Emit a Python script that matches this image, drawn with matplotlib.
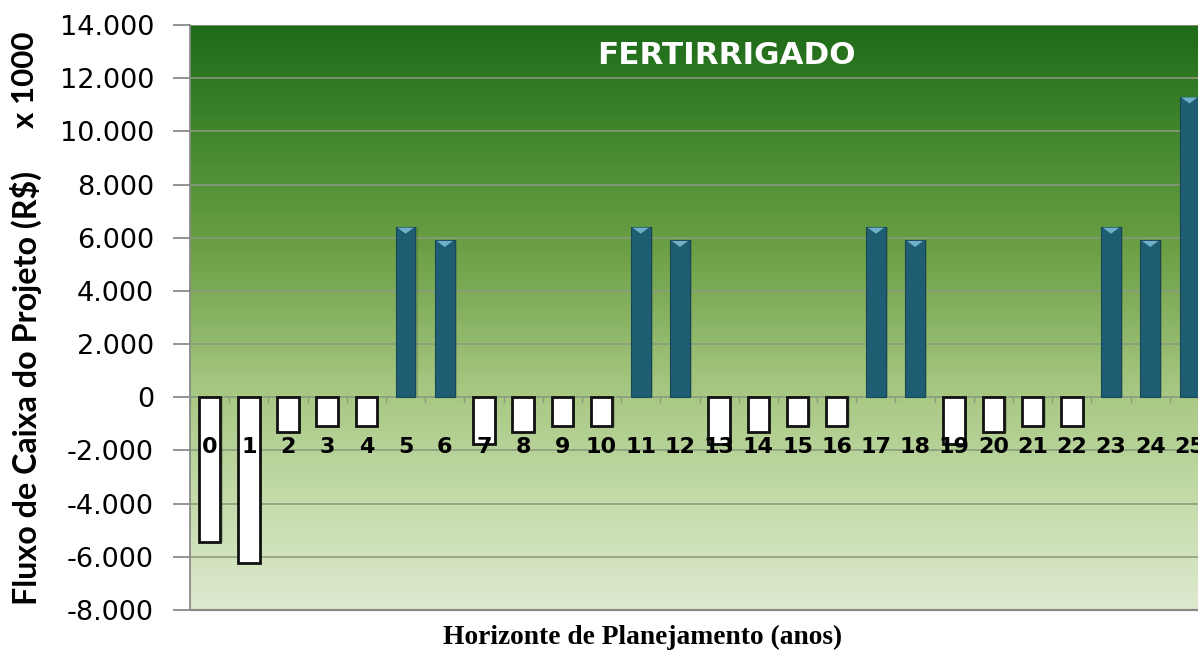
import numpy as np
import matplotlib
matplotlib.use("Agg")
import matplotlib.pyplot as plt
from matplotlib.colors import LinearSegmentedColormap

years = list(range(26))
cash_flow = [-5450, -6230, -1310, -1090, -1090, 6400, 5900,
             -1760, -1310, -1090, -1090, 6400, 5900,
             -1760, -1310, -1090, -1090, 6400, 5900,
             -1760, -1310, -1090, -1090, 6400, 5900, 11300]
yticks = [-8000, -6000, -4000, -2000, 0, 2000, 4000, 6000, 8000, 10000, 12000, 14000]
ytick_labels = ["-8.000", "-6.000", "-4.000", "-2.000", "0", "2.000", "4.000",
                "6.000", "8.000", "10.000", "12.000", "14.000"]
title = "FERTIRRIGADO"
ylabel = "Fluxo de Caixa do Projeto (R$)"
unit_label = "x 1000"
xlabel = "Horizonte de Planejamento (anos)"

W, H = 1198, 655
fig = plt.figure(figsize=(W / 100, H / 100), dpi=100)
fig.patch.set_facecolor("white")
renderer = fig.canvas.get_renderer()


def fit(t, target, horizontal=True):
    bb = t.get_window_extent(renderer=renderer)
    cur = bb.width if horizontal else bb.height
    t.set_fontsize(t.get_fontsize() * target / cur)


left, right, top, bottom = 190, 1209, 25, 610
ax = fig.add_axes([left / W, 1 - bottom / H, (right - left) / W, (bottom - top) / H])
ax.set_xlim(-0.5, 25.5)
ax.set_ylim(-8000, 14000)

cmap = LinearSegmentedColormap.from_list(
    "bg", [(0.0, "#dde9cf"), (0.18, "#c6dcab"), (0.38, "#a6c781"),
           (0.62, "#6b9f45"), (0.85, "#3a8229"), (1.0, "#1d6a18")])
grad = np.linspace(0, 1, 256).reshape(-1, 1)
ax.imshow(grad, aspect="auto", cmap=cmap, origin="lower",
          extent=(-0.5, 25.5, -8000, 14000), zorder=0)

for yv in yticks:
    ax.axhline(yv, color="#8a9a80", lw=1.3, zorder=1, alpha=0.9)

colors = ["#1f5e72" if v > 0 else "white" for v in cash_flow]
edges = ["#174656" if v > 0 else "#111111" for v in cash_flow]
widths = [0.5 if v > 0 else 0.55 for v in cash_flow]
lws = [0.8 if v > 0 else 2.0 for v in cash_flow]

ax.bar([x + 0.06 for x in years], cash_flow, width=widths, color="#334433",
       alpha=0.25, zorder=2, linewidth=0)
ax.bar(years, cash_flow, width=widths, color=colors, edgecolor=edges,
       linewidth=lws, zorder=3)

for x, v, w in zip(years, cash_flow, widths):
    if v > 0:
        ax.fill([x - w / 2 + 0.04, x + w / 2 - 0.04, x], [v - 20, v - 20, v - 250],
                color="#6fb0c8", zorder=4, lw=0)

for x in years:
    ax.text(x, -1880, str(x), ha="center", va="center", fontsize=16,
            fontweight="bold", family="DejaVu Sans", color="black", zorder=5)

for x in np.arange(-0.5, 26, 1):
    ax.plot([x, x], [0, -180], color="#8a9a80", lw=1, zorder=2)

ax.set_yticks(yticks)
ax.set_yticklabels(ytick_labels, fontsize=19.5, family="DejaVu Sans")
ax.set_xticks([])
ax.tick_params(axis="y", length=12, color="#8a8a8a", width=1.3, pad=14)
for s in ["top", "right"]:
    ax.spines[s].set_visible(False)
ax.spines["left"].set_color("#8a8a8a")
ax.spines["left"].set_linewidth(1.3)
ax.spines["bottom"].set_color("#8a8a8a")
ax.spines["bottom"].set_linewidth(1.6)

t = fig.text(726 / W, 1 - 56 / H, title, ha="center", va="center", color="white",
             fontsize=20, fontweight="bold", family="DejaVu Sans")
fit(t, 258)
t = fig.text(26 / W, 1 - 388 / H, ylabel, rotation=90, ha="center", va="center",
             fontsize=16, fontweight="bold",
             family=["Liberation Sans Narrow", "Lato"])
fit(t, 435, horizontal=False)
t = fig.text(25 / W, 1 - 80 / H, unit_label, rotation=90, ha="center", va="center",
             fontsize=16, fontweight="bold",
             family=["Liberation Sans Narrow", "Lato"])
fit(t, 96, horizontal=False)
t = fig.text(643 / W, 1 - 637 / H, xlabel, ha="center", va="center",
             fontsize=19, fontweight="bold", family="Liberation Serif")
fit(t, 400)

fig.savefig("out.png", dpi=100)
